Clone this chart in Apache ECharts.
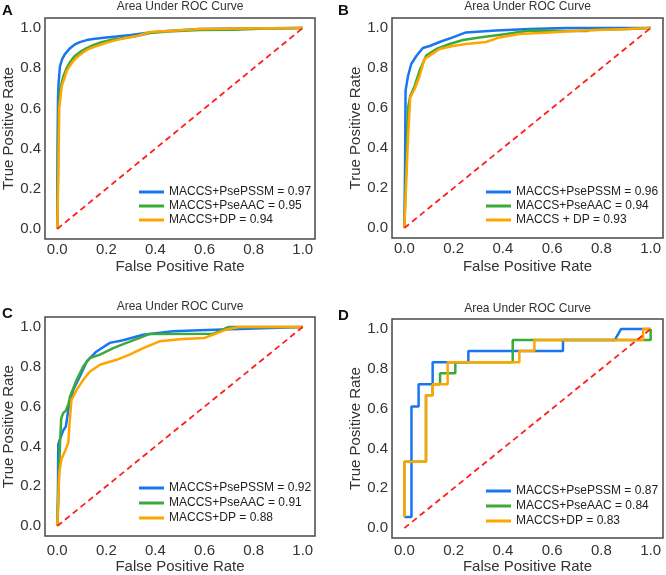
<!DOCTYPE html>
<html>
<head>
<meta charset="utf-8">
<script src="https://cdn.jsdelivr.net/npm/echarts@6/dist/echarts.min.js"></script>
<style>
  html, body { margin: 0; padding: 0; background: #fff; }
  #main { width: 666px; height: 575px; }
</style>
</head>
<body>
<div id="main"></div>
<script>
// panel labels and titles
var panelLetters = ['A', 'B', 'C', 'D'];
var panelTitle = 'Area Under ROC Curve';

// legend names per panel (pssm, aac, dp)
var namesA = ['MACCS+PsePSSM = 0.97', 'MACCS+PseAAC = 0.95', 'MACCS+DP = 0.94'];
var namesB = ['MACCS+PsePSSM = 0.96', 'MACCS+PseAAC = 0.94', 'MACCS + DP = 0.93'];
var namesC = ['MACCS+PsePSSM = 0.92', 'MACCS+PseAAC = 0.91', 'MACCS+DP = 0.88'];
var namesD = ['MACCS+PsePSSM = 0.87', 'MACCS+PseAAC = 0.84', 'MACCS+DP = 0.83'];

// ROC points [fpr, tpr]
var aPssm = [[0,0],[0.001,0.4],[0.003,0.65],[0.005,0.72],[0.011,0.81],[0.02,0.845],[0.031,0.87],[0.052,0.9],[0.07,0.917],[0.092,0.93],[0.12,0.94],[0.146,0.945],[0.19,0.952],[0.24,0.958],[0.3,0.966],[0.377,0.978],[0.45,0.985],[0.58,0.995],[0.75,0.998],[1,1]];
var aAac = [[0,0],[0.003,0.3],[0.006,0.6],[0.011,0.695],[0.025,0.76],[0.038,0.8],[0.052,0.83],[0.07,0.86],[0.092,0.88],[0.12,0.9],[0.146,0.915],[0.18,0.93],[0.214,0.94],[0.27,0.95],[0.323,0.96],[0.377,0.975],[0.45,0.983],[0.58,0.99],[0.72,0.992],[0.85,0.998],[1,1]];
var aDp = [[0,0],[0.004,0.25],[0.008,0.6],[0.018,0.71],[0.038,0.785],[0.05,0.81],[0.065,0.835],[0.085,0.86],[0.106,0.88],[0.13,0.897],[0.16,0.91],[0.2,0.927],[0.24,0.94],[0.28,0.95],[0.323,0.96],[0.377,0.98],[0.47,0.987],[0.58,0.995],[0.75,0.998],[1,1]];

var bPssm = [[0,0],[0.003,0.3],[0.005,0.687],[0.015,0.76],[0.028,0.82],[0.049,0.86],[0.075,0.9],[0.103,0.91],[0.143,0.93],[0.197,0.953],[0.25,0.978],[0.373,0.987],[0.508,0.995],[0.655,1],[1,1]];
var bAac = [[0,0],[0.008,0.3],[0.012,0.5],[0.015,0.6],[0.024,0.66],[0.042,0.71],[0.062,0.787],[0.089,0.862],[0.13,0.895],[0.184,0.92],[0.238,0.94],[0.305,0.953],[0.414,0.97],[0.508,0.987],[0.655,0.985],[0.74,0.985],[0.75,0.99],[0.912,0.995],[1,1]];
var bDp = [[0,0],[0.01,0.3],[0.015,0.45],[0.024,0.653],[0.042,0.695],[0.062,0.76],[0.082,0.845],[0.103,0.862],[0.143,0.895],[0.197,0.91],[0.25,0.92],[0.332,0.93],[0.386,0.953],[0.467,0.97],[0.588,0.978],[0.723,0.987],[0.9,0.995],[1,1]];

var cPssm = [[0,0],[0.003,0.2],[0.004,0.41],[0.012,0.44],[0.024,0.48],[0.035,0.5],[0.045,0.584],[0.065,0.684],[0.092,0.751],[0.12,0.827],[0.16,0.877],[0.214,0.92],[0.268,0.933],[0.35,0.961],[0.472,0.978],[0.58,0.983],[0.743,0.99],[0.75,1],[1,1]];
var cAac = [[0,0],[0.004,0.11],[0.008,0.3],[0.012,0.44],[0.016,0.54],[0.024,0.567],[0.035,0.58],[0.045,0.61],[0.052,0.651],[0.079,0.735],[0.106,0.802],[0.133,0.844],[0.174,0.861],[0.228,0.894],[0.282,0.92],[0.336,0.945],[0.377,0.965],[0.634,0.966],[0.661,0.978],[0.688,0.995],[0.7,1],[1,1]];
var cDp = [[0,0],[0.003,0.1],[0.008,0.27],[0.018,0.34],[0.031,0.374],[0.045,0.42],[0.05,0.517],[0.058,0.634],[0.079,0.684],[0.106,0.735],[0.133,0.776],[0.174,0.81],[0.241,0.835],[0.295,0.861],[0.35,0.894],[0.417,0.928],[0.512,0.94],[0.6,0.945],[0.634,0.961],[0.688,0.987],[0.743,1],[1,1]];

var dPssm = [[0,0.056],[0.029,0.056],[0.029,0.611],[0.058,0.611],[0.058,0.722],[0.115,0.722],[0.115,0.833],[0.26,0.833],[0.26,0.889],[0.644,0.889],[0.644,0.944],[0.854,0.944],[0.88,1],[1,1]];
var dAac = [[0,0.056],[0,0.333],[0.088,0.333],[0.088,0.667],[0.115,0.667],[0.115,0.722],[0.145,0.722],[0.145,0.778],[0.207,0.778],[0.207,0.833],[0.44,0.833],[0.44,0.944],[1,0.944],[1,1]];
var dDp = [[0,0.056],[0,0.333],[0.088,0.333],[0.088,0.667],[0.115,0.667],[0.115,0.722],[0.176,0.722],[0.176,0.833],[0.467,0.833],[0.467,0.889],[0.528,0.889],[0.528,0.944],[0.969,0.944],[0.969,1],[1,1]];

var chance = [[0,0],[1,1]];

var colors = ['#1a75f0', '#3aaa3a', '#ffa500'];
var font = 'Liberation Sans, Arial, sans-serif';

var chart = echarts.init(document.getElementById('main'));

// frame boxes of the four panels
var grids = [
  { left: 45, top: 18, width: 270, height: 221 },
  { left: 392, top: 18, width: 271, height: 220 },
  { left: 45, top: 317, width: 270, height: 219 },
  { left: 392, top: 319, width: 271, height: 221 }
];
var xLabelMargin = [3, 3, 7, 5];
var xNameGap = [20, 21, 23, 20];
var legendPos = [[139, 185], [486, 185], [139, 481], [486, 484]];
var legendGap = [0, 0, 1, 1];
var allNames = [namesA, namesB, namesC, namesD];
var allData = [[aPssm, aAac, aDp], [bPssm, bAac, bDp], [cPssm, cAac, cDp], [dPssm, dAac, dDp]];

function tickFmt(v) {
  var k = v * 5;
  if (Math.abs(k - Math.round(k)) > 1e-6) return '';
  return v.toFixed(1);
}

var option = {
  animation: false,
  backgroundColor: '#fff',
  title: [],
  grid: [],
  xAxis: [],
  yAxis: [],
  legend: [],
  series: []
};

for (var i = 0; i < 4; i++) {
  var g = grids[i];
  option.grid.push({
    left: g.left, top: g.top, width: g.width, height: g.height,
    show: true, borderColor: '#484848', borderWidth: 1.5, backgroundColor: '#fff'
  });
  option.title.push({
    text: panelTitle,
    left: g.left + g.width / 2, top: i < 2 ? 1 : g.top - 16,
    textAlign: 'center', padding: 0,
    textStyle: { fontFamily: font, fontSize: 12, fontWeight: 'normal', color: '#333' }
  });
  option.title.push({
    text: panelLetters[i],
    left: i % 2 === 0 ? 2 : 338, top: i < 2 ? 3 : g.top - 11,
    padding: 0,
    textStyle: { fontFamily: font, fontSize: 15, fontWeight: 'bold', color: '#111' }
  });
  option.xAxis.push({
    type: 'value', gridIndex: i, min: -0.05, max: 1.05, splitNumber: 5,
    name: 'False Positive Rate', nameLocation: 'middle', nameGap: xNameGap[i],
    nameTextStyle: { fontFamily: font, fontSize: 15, color: '#333' },
    axisLine: { show: false }, axisTick: { show: false }, splitLine: { show: false },
    axisLabel: { formatter: tickFmt, fontFamily: font, fontSize: 15, color: '#333', margin: xLabelMargin[i], showMinLabel: true, showMaxLabel: true }
  });
  option.yAxis.push({
    type: 'value', gridIndex: i, min: -0.05, max: 1.05, splitNumber: 5,
    name: 'True Positive Rate', nameLocation: 'middle', nameGap: 27.5,
    nameTextStyle: { fontFamily: font, fontSize: 15, color: '#333' },
    axisLine: { show: false }, axisTick: { show: false }, splitLine: { show: false },
    axisLabel: { formatter: tickFmt, fontFamily: font, fontSize: 15, color: '#333', margin: 4 }
  });
  option.legend.push({
    data: allNames[i], orient: 'vertical',
    left: legendPos[i][0], top: legendPos[i][1], padding: 0,
    itemGap: legendGap[i], itemWidth: 25, itemHeight: 3, icon: 'rect',
    textStyle: { fontFamily: font, fontSize: 12, color: '#222', lineHeight: 14 },
    selectedMode: false
  });
  for (var s = 0; s < 3; s++) {
    option.series.push({
      name: allNames[i][s], type: 'line', xAxisIndex: i, yAxisIndex: i,
      data: allData[i][s], showSymbol: false, symbol: 'none',
      color: colors[s], lineStyle: { width: 2.5, color: colors[s] },
      z: 2 + s
    });
  }
  option.series.push({
    name: 'chance ' + panelLetters[i], type: 'line', xAxisIndex: i, yAxisIndex: i,
    data: chance, showSymbol: false, symbol: 'none',
    lineStyle: { width: 1.8, color: '#ff1f1f', type: [6, 4] }, z: 6
  });
}

chart.setOption(option);
</script>
</body>
</html>
